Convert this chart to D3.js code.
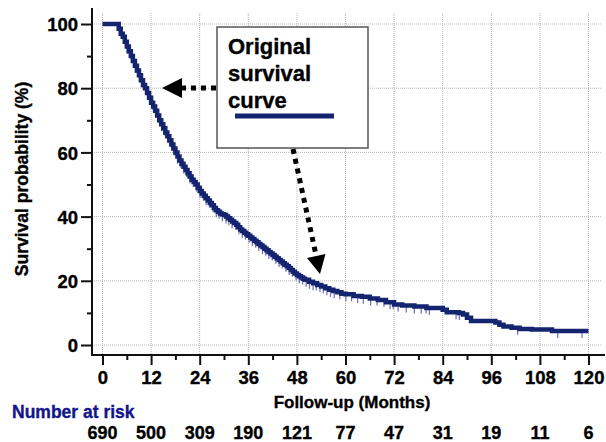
<!DOCTYPE html>
<html>
<head>
<meta charset="utf-8">
<script src="https://cdn.jsdelivr.net/npm/d3@7/dist/d3.min.js"></script>
<style>
  html, body { margin: 0; padding: 0; background: #fff; }
  svg { display: block; }
  text { font-family: Arial, "Liberation Sans", Helvetica, sans-serif; font-weight: bold; stroke-width: 0.35px; paint-order: stroke; }
</style>
</head>
<body>
<svg id="chart" width="606" height="442"></svg>
<script>
// ---- data ----
const months = [0, 3.5, 4, 4.5, 5, 5.5, 6, 6.5, 7, 7.5, 8, 8.5, 9, 9.5, 10, 10.5, 11, 11.5, 12,
  12.5, 13, 13.5, 14, 14.5, 15, 15.5, 16, 16.5, 17, 17.5, 18, 18.5, 19, 19.5, 20, 20.5, 21, 21.5, 22, 22.5,
  23, 23.5, 24, 24.5, 25, 25.5, 26, 26.5, 27, 27.5, 28, 28.5, 29, 29.5, 30, 30.5, 31, 31.5, 32, 32.5,
  33, 33.5, 34, 34.5, 35, 35.5, 36, 36.5, 37, 37.5, 38, 38.5, 39, 39.5, 40, 40.5, 41, 41.5, 42, 42.5,
  43, 43.5, 44, 44.5, 45, 45.5, 46, 46.5, 47, 47.5, 48, 48.5, 49, 49.5, 50, 51, 52, 53, 54, 55, 56, 57, 58, 59, 60,
  62, 64, 66, 68, 70, 72, 74, 77, 80, 84, 85, 88, 89, 90, 91, 97, 98, 99, 101, 103, 106, 111, 120];
const survival = [100, 100, 98.5, 97, 96, 94.5, 93, 91.5, 90, 88.5, 87, 85.5, 84, 82.5, 81, 80, 78.5, 77, 75.5,
  74.3, 73, 71.5, 70, 68.8, 67.5, 66.2, 65, 63.8, 62.5, 61.2, 60, 58.7, 57.5, 56.5, 55.5, 54.5, 53.5, 52.5, 51.5, 50.8,
  50, 49, 48, 47.2, 46.5, 45.7, 45, 44.2, 43.5, 42.7, 42, 41.5, 41, 40.7, 40.5, 40, 39.5, 39, 38.5, 38,
  37.5, 36.7, 36, 35.5, 35, 34.5, 34, 33.5, 33, 32.5, 32, 31.5, 31, 30.5, 30, 29.5, 29, 28.5, 28, 27.5,
  27, 26.5, 26, 25.5, 25, 24.5, 24, 23.4, 22.8, 22.3, 21.8, 21.4, 21, 20.6, 20.3, 19.7, 19.2, 18.7, 18.2, 17.7, 17.2, 16.8, 16.4, 16, 15.8,
  15.3, 15, 14.5, 14, 13.3, 12.6, 12.3, 12, 11.5, 11, 10.2, 10, 9.5, 8.5, 7.5, 7, 6.3, 5.8, 5.4, 5, 4.8, 4.4, 4.4];
const censorTimes = [5.2, 6.1, 6.8, 7.4, 8.2, 9.1, 9.8, 11.2, 12.4, 13.1, 13.8, 14.6, 15.3, 16.2, 16.9, 17.7,
  18.5, 19.3, 20.1, 20.8, 21.6, 22.4, 23.2, 24.1, 24.9, 25.6, 26.4, 27.3, 28.1, 28.8, 29.6, 30.5, 31.2, 32.0,
  32.9, 33.7, 34.5, 35.3, 36.2, 37.0, 37.8, 38.6, 39.5, 40.3, 41.1, 41.9, 42.8, 43.6, 44.4, 45.3, 46.1, 46.9,
  47.8, 48.6, 49.4, 50.3, 51.1, 52.0, 52.8, 53.7, 54.5, 55.4, 56.3, 57.2, 58.6, 60.1, 61.5, 63.0, 64.4, 66.2,
  67.8, 69.5, 71.0, 71.8, 73.0, 75.0, 77.0, 78.7, 79.9, 80.7, 87.3, 88.1, 102.5, 112.4, 118.4];
const xTicks = [0, 12, 24, 36, 48, 60, 72, 84, 96, 108, 120];
const yTicks = [0, 20, 40, 60, 80, 100];
const riskTimes = [0, 12, 24, 36, 48, 60, 72, 84, 96, 108, 120];
const atRisk = [690, 500, 309, 190, 121, 77, 47, 31, 19, 11, 6];
const legendLines = ["Original", "survival", "curve"];

// ---- setup ----
const svg = d3.select("#chart");
const x = d3.scaleLinear().domain([0, 120]).range([102.5, 588.5]);
const y = d3.scaleLinear().domain([0, 100]).range([345, 24]);
const axisX = 92, axisY = 355;
const navy = "#14246e";

// grid
const grid = svg.append("g");
grid.selectAll("line.v").data(xTicks).enter().append("line")
  .attr("x1", d => x(d)).attr("x2", d => x(d)).attr("y1", 13).attr("y2", axisY)
  .attr("stroke", "#b8b8b8").attr("stroke-width", 1).attr("stroke-dasharray", "1,1");
grid.selectAll("line.h").data(yTicks).enter().append("line")
  .attr("x1", axisX).attr("x2", 601).attr("y1", d => y(d)).attr("y2", d => y(d))
  .attr("stroke", "#b8b8b8").attr("stroke-width", 1).attr("stroke-dasharray", "1,1");

// axes
const xAxis = d3.axisBottom(x).tickValues(d3.range(0, 121, 6)).tickSize(0).tickFormat("");
const gx = svg.append("g").attr("transform", `translate(0,${axisY})`).call(xAxis);
gx.select(".domain").remove();
gx.selectAll(".tick line").remove();
gx.selectAll(".tick").append("line")
  .attr("y1", 0).attr("y2", d => d % 12 === 0 ? 10 : 5)
  .attr("stroke", "#111").attr("stroke-width", 2);
gx.selectAll(".tick").filter(d => d % 12 === 0).append("text")
  .attr("y", 29).attr("text-anchor", "middle").attr("fill", "#000").attr("stroke", "#000")
  .style("font-size", "18.5px").text(d => d);

const yAxis = d3.axisLeft(y).tickValues(d3.range(0, 101, 10)).tickSize(0).tickFormat("");
const gy = svg.append("g").attr("transform", `translate(${axisX},0)`).call(yAxis);
gy.select(".domain").remove();
gy.selectAll(".tick line").remove();
gy.selectAll(".tick").append("line")
  .attr("x1", 0).attr("x2", d => d % 20 === 0 ? -11 : -5)
  .attr("stroke", "#111").attr("stroke-width", 2);
gy.selectAll(".tick").filter(d => d % 20 === 0).append("text")
  .attr("x", -14).attr("dy", "0.36em").attr("text-anchor", "end").attr("fill", "#000").attr("stroke", "#000")
  .style("font-size", "18.5px").text(d => d);

svg.append("line").attr("x1", axisX).attr("x2", axisX).attr("y1", 8).attr("y2", axisY + 1)
  .attr("stroke", "#111").attr("stroke-width", 2);
svg.append("line").attr("x1", axisX - 1).attr("x2", 605).attr("y1", axisY).attr("y2", axisY)
  .attr("stroke", "#111").attr("stroke-width", 2);

// axis titles
svg.append("text").attr("transform", "translate(28,179) rotate(-90)")
  .attr("text-anchor", "middle").style("font-size", "17.5px").attr("fill", "#000").attr("stroke", "#000")
  .text("Survival probability (%)");
svg.append("text").attr("x", 352).attr("y", 408).attr("text-anchor", "middle")
  .style("font-size", "17px").attr("fill", "#000").attr("stroke", "#000").text("Follow-up (Months)");

// number at risk
svg.append("text").attr("x", 12).attr("y", 418).style("font-size", "17.5px")
  .attr("fill", "#12168a").attr("stroke", "#12168a").text("Number at risk");
svg.append("g").selectAll("text").data(riskTimes).enter().append("text")
  .attr("x", d => x(d)).attr("y", 439).attr("text-anchor", "middle")
  .style("font-size", "18px").attr("fill", "#000").attr("stroke", "#000").text((d, i) => atRisk[i]);

// survival curve
const pts = months.map((m, i) => [m, survival[i]]);
const stepAt = t => { let s = survival[0]; for (let i = 0; i < months.length; i++) { if (months[i] <= t) s = survival[i]; } return s; };
svg.append("g").selectAll("line").data(censorTimes).enter().append("line")
  .attr("x1", d => x(d)).attr("x2", d => x(d))
  .attr("y1", d => y(stepAt(d))).attr("y2", d => y(stepAt(d)) + 7)
  .attr("stroke", "#6b6bc0").attr("stroke-width", 1.2);
svg.append("path").datum(pts)
  .attr("d", d3.line().x(d => x(d[0])).y(d => y(d[1])).curve(d3.curveStepAfter))
  .attr("fill", "none").attr("stroke", navy).attr("stroke-width", 4.5).attr("stroke-linejoin", "miter");

// legend box
svg.append("rect").attr("x", 217).attr("y", 27).attr("width", 151).attr("height", 121)
  .attr("fill", "#fff").attr("stroke", "#555").attr("stroke-width", 1.5);
svg.append("g").selectAll("text").data(legendLines).enter().append("text")
  .attr("x", 228).attr("y", (d, i) => 54 + i * 27).style("font-size", "22px").attr("fill", "#000").attr("stroke", "#000")
  .text(d => d);
svg.append("line").attr("x1", 235).attr("x2", 334).attr("y1", 116).attr("y2", 116)
  .attr("stroke", navy).attr("stroke-width", 5);

// arrows
svg.append("line").attr("x1", 216).attr("x2", 182).attr("y1", 88).attr("y2", 88)
  .attr("stroke", "#000").attr("stroke-width", 5).attr("stroke-dasharray", "5,5");
svg.append("path").attr("d", "M162,88 L182,78 L182,98 Z").attr("fill", "#000");
svg.append("line").attr("x1", 293).attr("y1", 149).attr("x2", 316).attr("y2", 255)
  .attr("stroke", "#000").attr("stroke-width", 5).attr("stroke-dasharray", "5,5");
svg.append("path").attr("d", "M320,274 L325.5,254 L307,258 Z").attr("fill", "#000");
</script>
</body>
</html>
